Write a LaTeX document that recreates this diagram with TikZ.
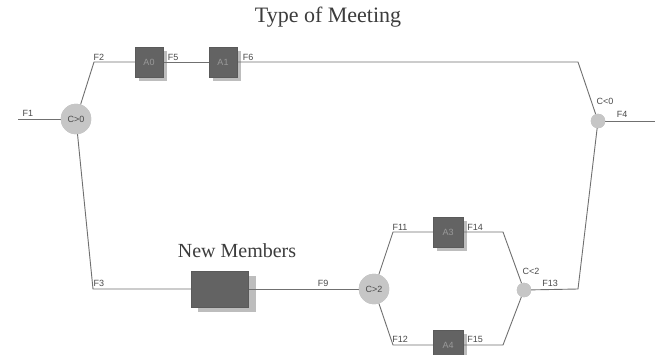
\documentclass[tikz,border=0pt]{standalone}
\usepackage{fontspec}
\setmainfont{Liberation Serif}
\newfontfamily\lblfont{Liberation Sans}
\begin{document}
\begin{tikzpicture}[x=1pt,y=-1pt,
  conn/.style={draw=lineg, line width=0.9pt},
  act/.style={draw=boxd, fill=boxf, minimum width=28pt, minimum height=30pt, inner sep=0pt,
     font=\lblfont\fontsize{9}{10}\selectfont, text=boxt},
  bigact/.style={act, minimum width=57pt, minimum height=36pt},
  bigcirc/.style={circle, fill=circf, draw=circf, minimum size=30pt, inner sep=0pt,
     font=\lblfont\fontsize{9}{10}\selectfont, text=labt},
  smallcirc/.style={circle, fill=circf, draw=circf, minimum size=14pt, inner sep=0pt},
  flab/.style={font=\lblfont\fontsize{9}{10}\selectfont, text=labt, inner sep=0pt},
  ttl/.style={font=\fontsize{22}{24}\selectfont, text=titt, inner sep=0pt},
  nmttl/.style={font=\fontsize{20}{22}\selectfont, text=titt, inner sep=0pt}
]
\definecolor{lineg}{HTML}{707070}
\definecolor{boxf}{HTML}{636363}
\definecolor{boxd}{HTML}{5A5A5A}
\definecolor{boxt}{HTML}{9A9A9A}
\definecolor{shad}{HTML}{BDBDBD}
\definecolor{circf}{HTML}{C6C6C6}
\definecolor{labt}{HTML}{4A4A4A}
\definecolor{titt}{HTML}{3C3C3C}
\fill[white] (0,0) rectangle (655,354);
\useasboundingbox (0,0) rectangle (655,354);

% title labels
\node[ttl] (title) at (328,17) {Type of Meeting};
\node[nmttl] (nmtitle) at (237,251) {New Members};

% coordinates
\coordinate (f1s) at (18,119);
\coordinate (k2) at (94,62);
\coordinate (k6) at (578,62);
\coordinate (f4e) at (655,121);
\coordinate (k13) at (578,289);
\coordinate (k3) at (93,289);
\coordinate (k11) at (393,232);
\coordinate (k14) at (503,232);
\coordinate (k12) at (393,345);
\coordinate (k15) at (503,345);

% shadows
\fill[shad] (139,51) rectangle (167,81);
\fill[shad] (213,51) rectangle (241,81);
\fill[shad] (437,221) rectangle (467,251);
\fill[shad] (437,334) rectangle (467,364);
\fill[shad] (198,276) rectangle (256,312);

% connectors drawn first
\node[bigcirc] (c0) at (76,119) {};
\node[smallcirc] (c0r) at (598,121) {};
\node[bigcirc] (c2) at (374,289) {};
\node[smallcirc] (c2r) at (524,290) {};
\node[act] (a0) at (149,62) {};
\node[act] (a1) at (223,62) {};
\node[act, minimum width=30pt] (a3) at (448,232) {};
\node[act, minimum width=30pt] (a4) at (448,345) {};
\node[bigact] (nm) at (219.5,289) {};

\draw[conn] (f1s) -- (c0);
\draw[conn] (c0) -- (k2) -- (a0);
\draw[conn] (a0) -- (a1);
\draw[conn] (a1) -- (k6) -- (c0r);
\draw[conn] (c0r) -- (f4e);
\draw[conn] (c0r) -- (k13) -- (c2r);
\draw[conn] (c0) -- (k3) -- (nm);
\draw[conn] (nm) -- (c2);
\draw[conn] (c2) -- (k11) -- (a3);
\draw[conn] (a3) -- (k14) -- (c2r);
\draw[conn] (c2) -- (k12) -- (a4);
\draw[conn] (a4) -- (k15) -- (c2r);

% redraw nodes on top
\node[bigcirc] at (76,119) {C>0};
\node[smallcirc] at (598,121) {};
\node[bigcirc] at (374,289) {C>2};
\node[smallcirc] at (524,290) {};
\node[act] at (149,62) {A0};
\node[act] at (223,62) {A1};
\node[act, minimum width=30pt] at (448,232) {A3};
\node[act, minimum width=30pt] at (448,345) {A4};
\node[bigact] at (219.5,289) {};

% flow labels
\node[flab] (lf1) at (28,113) {F1};
\node[flab] (lf2) at (99,57) {F2};
\node[flab] (lf5) at (173,57) {F5};
\node[flab] (lf6) at (248,57) {F6};
\node[flab] (lc0r) at (605,101) {C<0};
\node[flab] (lf4) at (622,114) {F4};
\node[flab] (lf3) at (99,283) {F3};
\node[flab] (lf9) at (323,283) {F9};
\node[flab] (lf11) at (400,227) {F11};
\node[flab] (lf14) at (475,227) {F14};
\node[flab] (lf12) at (400,339) {F12};
\node[flab] (lf15) at (475,339) {F15};
\node[flab] (lc2r) at (531,271) {C<2};
\node[flab] (lf13) at (550,283) {F13};
\end{tikzpicture}
\end{document}
